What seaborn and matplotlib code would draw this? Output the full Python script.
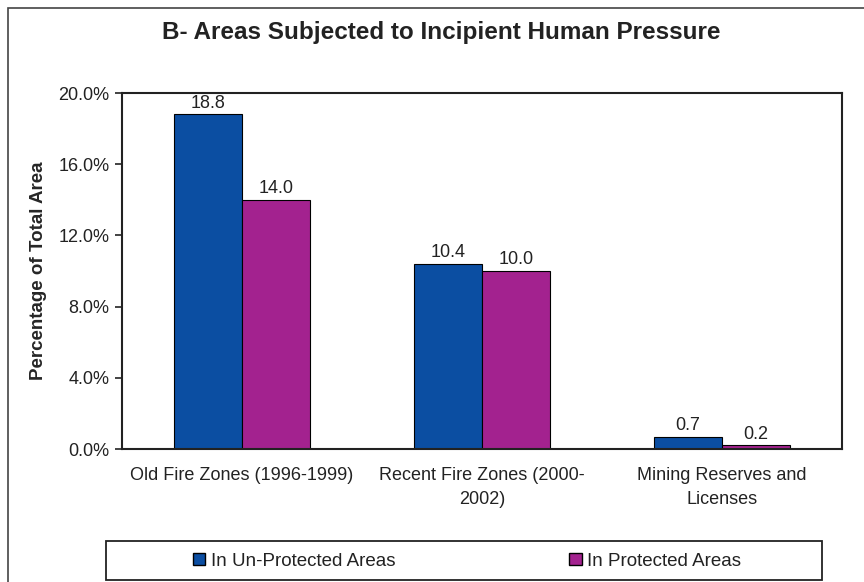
import numpy as np
import pandas as pd
import matplotlib
matplotlib.use('Agg')
import matplotlib.pyplot as plt
from matplotlib.patches import Rectangle
import seaborn as sns

# data
categories = ['Old Fire Zones (1996-1999)', 'Recent Fire Zones (2000-\n2002)', 'Mining Reserves and\nLicenses']
series = ['In Un-Protected Areas', 'In Protected Areas']
unprotected = [18.8, 10.4, 0.7]
protected = [14.0, 10.0, 0.2]
yticks = [0, 4, 8, 12, 16, 20]

df = pd.DataFrame({
    'category': categories * 2,
    'series': [series[0]] * 3 + [series[1]] * 3,
    'value': unprotected + protected,
})

sns.set_theme(style='white')
plt.rcParams['font.family'] = ['Liberation Sans', 'DejaVu Sans']

fig = plt.figure(figsize=(8.64, 5.82), dpi=100)
ax = fig.add_axes([122 / 864, 1 - 449 / 582, 720 / 864, 356 / 582])

palette = {series[0]: '#0B4EA2', series[1]: '#A3228F'}
sns.barplot(data=df, x='category', y='value', hue='series', palette=palette,
            width=0.567, edgecolor='black', linewidth=0.8, saturation=1,
            ax=ax, legend=False)

for cont in ax.containers:
    ax.bar_label(cont, fmt='%.1f', padding=2, fontsize=13, color='#222222')

ax.set_xlim(-0.5, 2.5)
ax.set_ylim(0, 20)
ax.set_yticks(yticks)
ax.set_yticklabels([f'{v:.1f}%' for v in yticks], fontsize=13, color='#222222')
ax.set_xticks(range(3))
ax.set_xticklabels(categories, fontsize=13, color='#222222', linespacing=1.5)
ax.set_xticks([-0.5, 0.5, 1.5, 2.5], minor=True)
ax.tick_params(axis='x', which='major', length=0, pad=13)
ax.tick_params(axis='x', which='minor', length=5, width=1.2, direction='out', color='#222222')
ax.tick_params(axis='y', length=5, width=1.2, direction='out', color='#222222', left=True, pad=4)
ax.set_xlabel('')
ax.set_ylabel('Percentage of Total Area', fontsize=13.5, fontweight='bold', labelpad=8)
for s in ax.spines.values():
    s.set_visible(True)
    s.set_color('#222222')
    s.set_linewidth(1.5)

fig.text(441 / 864, 1 - 32 / 582, 'B- Areas Subjected to Incipient Human Pressure',
         ha='center', va='center', fontsize=17.5, fontweight='bold', color='#222222')

# outer chart frame
fig.patches.append(Rectangle((8 / 864, -0.02), 1.0, 1 - 8 / 582 + 0.02,
                             transform=fig.transFigure, fill=False,
                             edgecolor='#444444', linewidth=1.2))

# legend frame
fig.patches.append(Rectangle((106 / 864, 1 - 580 / 582), 716 / 864, 39 / 582,
                             transform=fig.transFigure, fill=False,
                             edgecolor='#222222', linewidth=1.3))

# legend
handles = [Rectangle((0, 0), 1, 1, facecolor=palette[s], edgecolor='black', linewidth=1) for s in series]
leg = fig.legend(handles, series, loc='center', bbox_to_anchor=(467 / 864, 1 - 561 / 582),
                 ncol=2, frameon=False, fontsize=13.5,
                 handlelength=0.65, handleheight=0.65, handletextpad=0.3,
                 columnspacing=9.3, borderpad=0.2)
for t in leg.get_texts():
    t.set_color('#222222')

fig.savefig('out.png', dpi=100)
